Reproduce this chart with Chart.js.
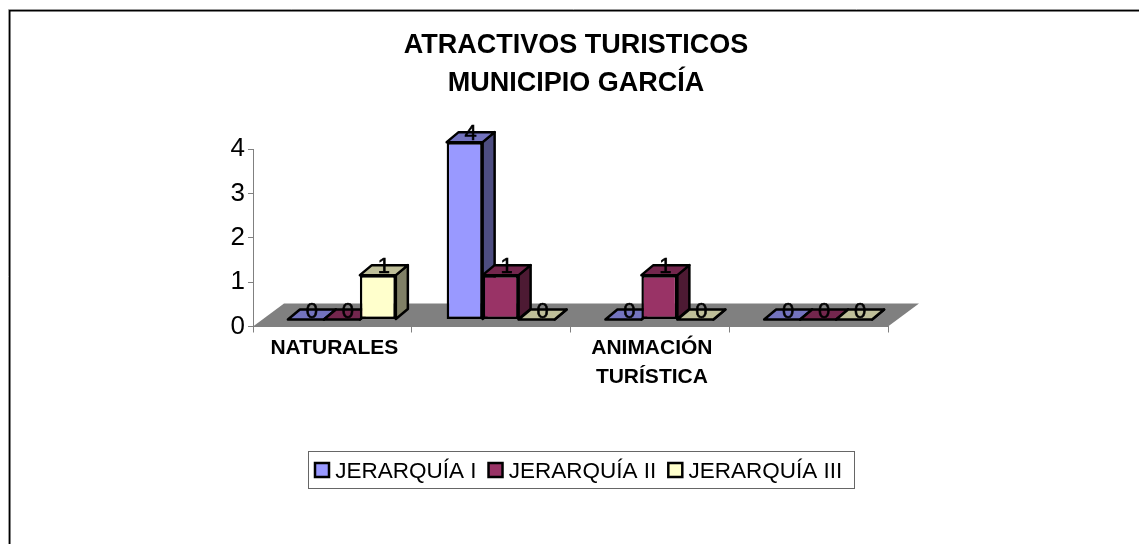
<!DOCTYPE html>
<html><head><meta charset="utf-8">
<script src="https://cdn.jsdelivr.net/npm/chart.js@4"></script>
<style>html,body{margin:0;padding:0;background:#fff}#w{width:1139px;height:544px;position:relative}canvas{display:block}</style>
</head><body><div id="w"><canvas id="c" width="1139" height="544"></canvas></div>
<script>
const categories = ["NATURALES", "", ["ANIMACIÓN", "TURÍSTICA"], ""];
const seriesNames = ["JERARQUÍA I", "JERARQUÍA II", "JERARQUÍA III"];
const jerarquia1 = [0, 4, 0, 0];
const jerarquia2 = [0, 1, 1, 0];
const jerarquia3 = [1, 0, 0, 0];
const yTicks = [0, 1, 2, 3, 4];
const titleLines = ["ATRACTIVOS TURISTICOS", "MUNICIPIO GARCÍA"];
const FONT = '"Liberation Sans", Arial, sans-serif';
const seriesColors = ["#9999FF", "#993366", "#FFFFCC"];
const shade = {
  "#9999FF": {side: "#4D4D80", top: "#7373BF"},
  "#993366": {side: "#4D1A33", top: "#73264D"},
  "#FFFFCC": {side: "#808066", top: "#BFBF99"}
};
const OFF = {x: 9.5, y: -7}, DEPTH = {x: 12, y: -10}, FLOOR = {x: 31, y: -23};
const LW = 2.5;

const threeD = {
  id: "threeD",
  beforeDatasetsDraw(chart) {
    const {ctx, chartArea: a} = chart;
    const b = a.bottom;
    ctx.save();
    ctx.fillStyle = "#808080";
    ctx.beginPath();
    ctx.moveTo(a.left, b);
    ctx.lineTo(a.right, b);
    ctx.lineTo(a.right + FLOOR.x, b + FLOOR.y);
    ctx.lineTo(a.left + FLOOR.x, b + FLOOR.y);
    ctx.closePath();
    ctx.fill();
    // depth faces first, in series order, so each bar covers the side of the previous one
    ctx.translate(OFF.x, OFF.y);
    ctx.strokeStyle = "#000";
    ctx.lineWidth = LW;
    ctx.lineJoin = "round";
    chart.data.datasets.forEach((ds, i) => {
      chart.getDatasetMeta(i).data.forEach(el => {
        const l = el.x - el.width / 2, r = el.x + el.width / 2, t = el.y, bo = el.base;
        ctx.fillStyle = shade[ds.backgroundColor].side;
        ctx.beginPath();
        ctx.moveTo(r, t); ctx.lineTo(r + DEPTH.x, t + DEPTH.y);
        ctx.lineTo(r + DEPTH.x, bo + DEPTH.y); ctx.lineTo(r, bo);
        ctx.closePath(); ctx.fill(); ctx.stroke();
        ctx.fillStyle = shade[ds.backgroundColor].top;
        ctx.beginPath();
        ctx.moveTo(l, t); ctx.lineTo(l + DEPTH.x, t + DEPTH.y);
        ctx.lineTo(r + DEPTH.x, t + DEPTH.y); ctx.lineTo(r, t);
        ctx.closePath(); ctx.fill(); ctx.stroke();
      });
    });
    ctx.restore();
  },
  beforeDatasetDraw(chart) { chart.ctx.save(); chart.ctx.translate(OFF.x, OFF.y); },
  afterDatasetDraw(chart) { chart.ctx.restore(); },
  afterDatasetsDraw(chart) {
    const {ctx} = chart;
    ctx.save();
    ctx.fillStyle = "#000";
    ctx.strokeStyle = "#000";
    ctx.lineWidth = 0.6;
    ctx.font = "22px " + FONT;
    ctx.textAlign = "center";
    ctx.textBaseline = "middle";
    chart.data.datasets.forEach((ds, i) => {
      chart.getDatasetMeta(i).data.forEach((el, j) => {
        const tx = el.x + OFF.x + DEPTH.x / 2, ty = el.y + OFF.y + DEPTH.y / 2 - 3;
        ctx.fillText(String(ds.data[j]), tx, ty);
        ctx.strokeText(String(ds.data[j]), tx, ty);
      });
    });
    ctx.restore();
  },
  afterLayout(chart) {
    const lg = chart.legend;
    lg.left = 303; lg.right = 900;
    lg.top = 449; lg.bottom = 485;
    lg.adjustHitBoxes();
  },
  beforeDraw(chart) {
    const {ctx} = chart;
    ctx.save();
    // frame: top and left edges only, the rest is cut off
    ctx.lineWidth = 1;
    ctx.strokeStyle = "#999";
    ctx.beginPath();
    ctx.moveTo(8.5, 544); ctx.lineTo(8.5, 9.5); ctx.lineTo(1139, 9.5);
    ctx.stroke();
    ctx.strokeStyle = "#000";
    ctx.lineWidth = 1.5;
    ctx.beginPath();
    ctx.moveTo(9.75, 544); ctx.lineTo(9.75, 10.75); ctx.lineTo(1139, 10.75);
    ctx.stroke();
    // legend box
    ctx.strokeStyle = "#666";
    ctx.lineWidth = 1;
    ctx.strokeRect(308.5, 451.5, 546, 37);
    ctx.restore();
  },
  afterDraw(chart) {
    // legend swatches, placed close to their text
    const {ctx} = chart, lg = chart.legend;
    ctx.save();
    ctx.strokeStyle = "#000";
    ctx.lineWidth = LW;
    lg.legendHitBoxes.forEach((h, i) => {
      ctx.fillStyle = seriesColors[i];
      ctx.fillRect(h.left, 463, 14, 14);
      ctx.strokeRect(h.left, 463, 14, 14);
    });
    ctx.restore();
  }
};

const data = {
  labels: categories,
  datasets: [jerarquia1, jerarquia2, jerarquia3].map((vals, i) => ({
    label: seriesNames[i],
    data: vals,
    backgroundColor: seriesColors[i],
    borderColor: "#000",
    borderWidth: LW,
    borderSkipped: false,
    clip: false,
    categoryPercentage: 0.68,
    barPercentage: 1
  }))
};

new Chart(document.getElementById("c"), {
  type: "bar",
  data,
  plugins: [threeD],
  options: {
    responsive: false,
    animation: false,
    layout: {padding: {left: 22, right: 9, top: 0, bottom: 0}, autoPadding: false},
    plugins: {
      tooltip: {enabled: false},
      title: {
        display: true,
        text: titleLines,
        color: "#000",
        font: {family: FONT, size: 27, weight: "bold", lineHeight: 1.41},
        padding: {top: 26.5, bottom: 46.5}
      },
      legend: {
        position: "bottom",
        align: "start",
        labels: {
          color: "#000",
          font: {family: FONT, size: 22.5},
          boxWidth: 9, boxHeight: 0,
          padding: 12,
          generateLabels(chart) {
            return chart.data.datasets.map((d, i) => ({
              text: d.label, fillStyle: "rgba(0,0,0,0)", strokeStyle: "rgba(0,0,0,0)",
              lineWidth: 0, datasetIndex: i, fontColor: "#000"
            }));
          }
        }
      }
    },
    scales: {
      x: {
        grid: {display: true, drawOnChartArea: false, color: "#808080", tickLength: 6},
        border: {display: true, color: "#808080"},
        ticks: {color: "#000", font: {family: FONT, size: 21, weight: "bold", lineHeight: 1.38}, maxRotation: 0, autoSkip: false, padding: 1, labelOffset: 2},
        afterFit(s) { s.height = 173; }
      },
      y: {
        min: 0, max: 4,
        afterBuildTicks(s) { s.ticks = yTicks.map(v => ({value: v})); },
        grid: {display: true, drawOnChartArea: false, color: "#808080", tickLength: 5},
        border: {display: true, color: "#808080"},
        ticks: {color: "#000", font: {family: FONT, size: 26}, padding: 3},
        afterFit(s) { s.width = 231; }
      },
      spacer: {
        position: "right", min: 0, max: 4,
        grid: {display: false}, border: {display: false}, ticks: {display: false},
        afterFit(s) { s.width = 242; }
      }
    }
  }
});
</script></body></html>
